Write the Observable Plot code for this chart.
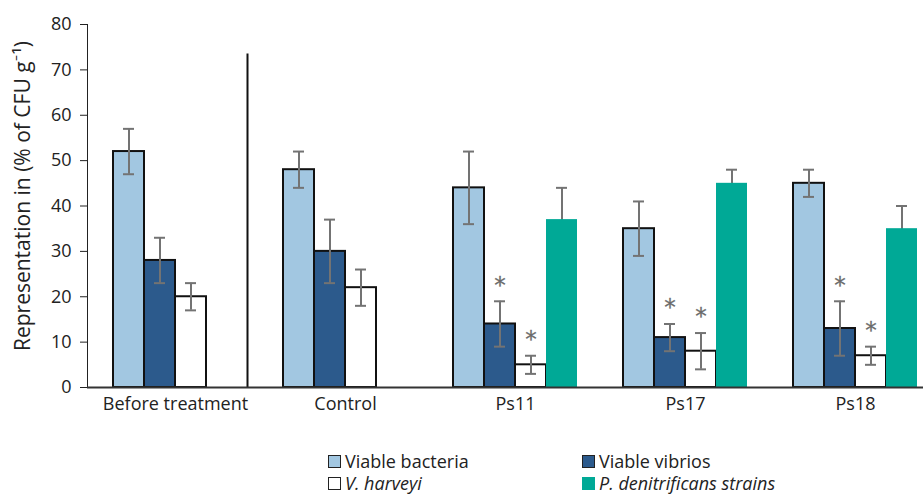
<!DOCTYPE html>
<html>
<head>
<meta charset="utf-8">
<script src="https://cdn.jsdelivr.net/npm/d3@7"></script>
<script src="https://cdn.jsdelivr.net/npm/@observablehq/plot@0.6"></script>
<style>
  body { margin: 0; background: #fff; font-family: "Open Sans", Lato, sans-serif; }
  #chart { position: relative; width: 923px; }
  .legend { position: relative; height: 75px; font-size: 18px; color: #222; }
  .item { position: absolute; display: flex; align-items: center; gap: 4px; white-space: nowrap; line-height: 22px; }
  .sw { width: 11px; height: 11px; border: 1.5px solid #222; box-sizing: content-box; }
</style>
</head>
<body>
<div id="chart"></div>
<script>
const groups = ["Before treatment", "Control", "Ps11", "Ps17", "Ps18"];
const seriesNames = ["Viable bacteria", "Viable vibrios", "V. harveyi", "P. denitrificans strains"];
const colors = ["#a2c7e1", "#2c5a8c", "#ffffff", "#00a996"];

const bacteria   = [52, 48, 44, 35, 45];
const bacteriaLo = [47, 44, 36, 29, 42];
const bacteriaHi = [57, 52, 52, 41, 48];

const vibrios   = [28, 30, 14, 11, 13];
const vibriosLo = [23, 23, 9, 8, 7];
const vibriosHi = [33, 37, 19, 14, 19];

const harveyi   = [20, 22, 5, 8, 7];
const harveyiLo = [17, 18, 3, 4, 5];
const harveyiHi = [23, 26, 7, 12, 9];

const denitr   = [null, null, 37, 45, 35];
const denitrLo = [null, null, 30, 42, 30];
const denitrHi = [null, null, 44, 48, 40];

// significance stars: [series index, group]
const stars = [[1, "Ps11"], [2, "Ps11"], [1, "Ps17"], [2, "Ps17"], [1, "Ps18"], [2, "Ps18"]];

const separatorTop = 73.5;
const yTicks = [0, 10, 20, 30, 40, 50, 60, 70, 80];
const yLabel = "Representation in (% of CFU g⁻¹)";

const vals = [bacteria, vibrios, harveyi, denitr];
const los = [bacteriaLo, vibriosLo, harveyiLo, denitrLo];
const his = [bacteriaHi, vibriosHi, harveyiHi, denitrHi];

const rows = [];
vals.forEach((arr, si) => groups.forEach((g, gi) => {
  if (arr[gi] == null) return;
  rows.push({group: g, series: seriesNames[si], si, value: arr[gi], lo: los[si][gi], hi: his[si][gi]});
}));
const starRows = stars.map(([si, g]) => rows.find(r => r.si === si && r.group === g));

const slot = 31;      // width of one bar within a group band (px)
const errColor = "#737373";
const marks = [];

for (let i = 0; i < 4; i++) {
  const data = rows.filter(d => d.si === i);
  const off = (i - 1.5) * slot;
  const bar = Plot.barY(data, {
    x: "group", y: "value", fill: colors[i],
    stroke: i < 3 ? "#111" : colors[i], strokeWidth: i < 3 ? 2 : 0,
    insetLeft: i * slot, insetRight: (3 - i) * slot
  });
  const err = [
    Plot.ruleX(data, {x: "group", y1: "lo", y2: "hi", dx: off, stroke: errColor, strokeWidth: 2}),
    Plot.tickY(data, {x: "group", y: "hi", insetLeft: i * slot + 10, insetRight: (3 - i) * slot + 10, stroke: errColor, strokeWidth: 2}),
    Plot.tickY(data, {x: "group", y: "lo", insetLeft: i * slot + 10, insetRight: (3 - i) * slot + 10, stroke: errColor, strokeWidth: 2})
  ];
  if (i === 3) marks.push(...err, bar);
  else marks.push(bar, ...err);
}

for (const si of [1, 2]) {
  marks.push(Plot.text(starRows.filter(d => d.si === si), {
    x: "group", y: "hi", text: () => "*", dx: (si - 1.5) * slot,
    dy: -16, fontSize: 23, fill: "#6a6a6a", stroke: "#6a6a6a", strokeWidth: 0.3,
    fontFamily: "DejaVu Sans"
  }));
}

marks.push(Plot.ruleX([separatorTop], {x: () => "Before treatment", y1: 0, y2: d => d, dx: 72, stroke: "#111", strokeWidth: 2}));
marks.push(Plot.ruleY([0], {stroke: "#333", strokeWidth: 2}));
marks.push(Plot.text([yLabel], {
  text: d => d, frameAnchor: "left", textAnchor: "middle", rotate: -90, dx: -64, dy: -10,
  fontSize: 21, fill: "#222"
}));

const plot = Plot.plot({
  width: 923,
  height: 420,
  marginLeft: 87,
  marginRight: 0,
  marginTop: 24,
  marginBottom: 33,
  style: {fontSize: "18px", fontFamily: "'Open Sans', Lato, sans-serif", color: "#222", background: "#fff"},
  x: {
    domain: groups, paddingInner: 0.273, paddingOuter: 0.088, align: 0.79,
    tickSize: 0, tickPadding: 10, label: null
  },
  y: {
    domain: [0, 80], ticks: yTicks, tickSize: 7, tickPadding: 9, line: true,
    label: null
  },
  marks
});
document.getElementById("chart").appendChild(plot);

const legend = document.createElement("div");
legend.className = "legend";
const legendItems = [
  {name: seriesNames[0], color: colors[0], left: 328, top: 41, italic: false, border: true},
  {name: seriesNames[1], color: colors[1], left: 582, top: 41, italic: false, border: true},
  {name: seriesNames[2], color: colors[2], left: 328, top: 63, italic: true, border: true},
  {name: seriesNames[3], color: colors[3], left: 582, top: 63, italic: true, border: false}
];
for (const it of legendItems) {
  const d = document.createElement("div");
  d.className = "item";
  d.style.left = it.left + "px";
  d.style.top = (it.top - 11) + "px";
  const sw = document.createElement("span");
  sw.className = "sw";
  sw.style.background = it.color;
  if (!it.border) sw.style.borderColor = it.color;
  const t = document.createElement("span");
  t.textContent = it.name;
  if (it.italic) t.style.fontStyle = "italic";
  d.append(sw, t);
  legend.appendChild(d);
}
document.getElementById("chart").appendChild(legend);
</script>
</body>
</html>
